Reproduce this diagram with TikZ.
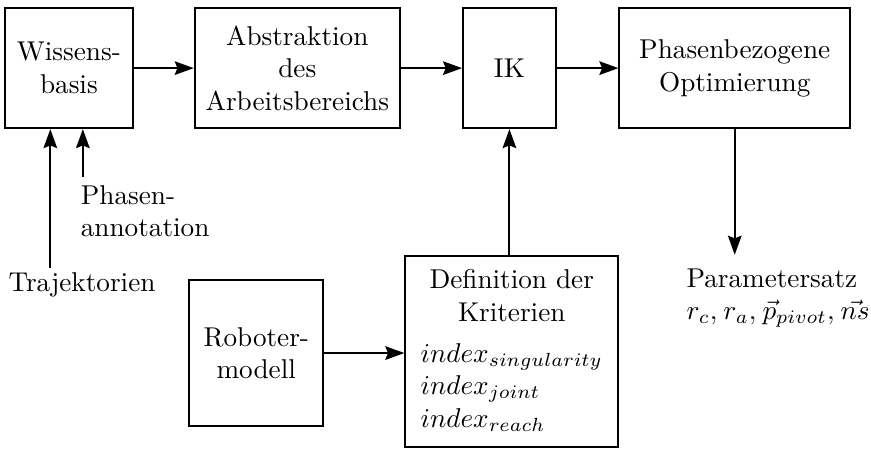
\documentclass[tikz,border=0pt]{standalone}
\usepackage{amsmath,amssymb}
\usepackage{tikz}
\usetikzlibrary{positioning, arrows.meta, calc}

\begin{document}
\begin{tikzpicture}[
        block/.style={draw, line width=0.7pt, align=center, minimum height=1.55cm},
        flow/.style={line width=0.7pt, -{Stealth[length=7pt, width=5pt, inset=1pt]}},
    ]
        \useasboundingbox (0, 0) rectangle (11.25, 5.80);

        \node[block, minimum width=1.65cm] (wiss) at (0.89, 4.92) {Wissens-\\basis}; % wissensbasis
        \node[block, minimum width=2.65cm] (abs) at (3.84, 4.92) {Abstraktion\\des\\Arbeitsbereichs}; % abstraktion
        \node[block, minimum width=1.20cm] (ik) at (6.58, 4.92) {IK}; % ik
        \node[block, minimum width=2.98cm] (opt) at (9.49, 4.92) {Phasenbezogene\\Optimierung}; % optimierung
        \node[block, minimum width=1.73cm, minimum height=1.89cm] (rob) at (3.31, 1.24) {Roboter-\\modell}; % robotermodell
        \node[block, minimum width=2.75cm, minimum height=2.47cm] (def) at (6.61, 1.26) {%
            \begin{tabular}{@{}l@{}}
                \multicolumn{1}{@{}c@{}}{Definition der}\\
                \multicolumn{1}{@{}c@{}}{Kriterien}\\[3pt]
                $index_{singularity}$\\
                $index_{joint}$\\
                $index_{reach}$
            \end{tabular}}; % kriterien

        \node (traj) at (1.06, 2.12) {Trajektorien}; % trajektorien
        \node[anchor=north west, align=left] (phas) at (0.92, 3.53) {Phasen-\\annotation}; % annotation
        \node[anchor=west, align=left, inner sep=0pt] (par) at (8.86, 1.95) {Parametersatz\\$r_c,\mkern1mu r_a,\mkern1mu \vec{p}_{pivot},\mkern1mu \vec{ns}$}; % parameter

        \coordinate (trajin) at (0.65, 2.34);
        \coordinate (phasin) at (1.07, 3.51);
        \coordinate (parout) at (9.49, 2.51);

        \draw[flow] (wiss) -- (abs);
        \draw[flow] (abs) -- (ik);
        \draw[flow] (ik) -- (opt);
        \draw[flow] (opt.south) -- (parout);
        \draw[flow] (rob) -- (rob -| def.west);
        \draw[flow] (ik.south |- def.north) -- (ik.south);
        \draw[flow] (trajin) -- (trajin |- wiss.south);
        \draw[flow] (phasin) -- (phasin |- wiss.south);
    \end{tikzpicture}
\end{document}
